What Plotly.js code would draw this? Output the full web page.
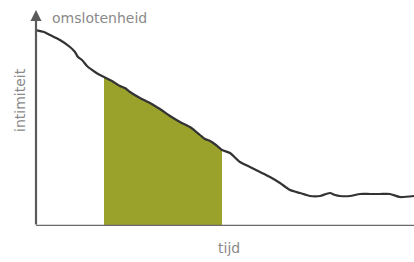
<!DOCTYPE html>
<html>
<head>
<meta charset="utf-8">
<script src="https://cdn.plot.ly/plotly-3.0.1.min.js"></script>
<style>html,body{margin:0;padding:0;background:#fff;}</style>
</head>
<body>
<div id="chart" style="width:414px;height:262px;"></div>
<script>
// time (arbitrary units) and intimacy (arbitrary units)
const tijd = [0, 8, 14, 24, 34, 39, 42, 46, 51, 59, 64, 68, 72, 76, 84, 89, 94, 104, 114, 119, 124, 134, 144, 154, 164, 169, 174, 180, 186, 194, 204, 214, 224, 234, 244, 254, 264, 274, 284, 290, 294, 299, 304, 314, 324, 334, 344, 354, 364, 378];
const intimiteit = [196, 194, 191, 186, 179, 174, 169, 166, 160, 154, 151, 149, 147, 145, 140, 138, 134, 128, 123, 120, 117, 110, 104, 99, 91, 87, 85, 81, 76, 73, 64, 59, 54, 49, 43, 36, 33, 30, 30, 32, 33, 31, 30, 30, 32, 32, 32, 32, 29, 30];
// highlighted interval
const fillStart = 68;
const fillEnd = 186;
const labels = {y: 'intimiteit', x: 'tijd', curve: 'omslotenheid'};

const fx = [], fy = [];
tijd.forEach((t, i) => { if (t >= fillStart && t <= fillEnd) { fx.push(t); fy.push(intimiteit[i]); } });

const traces = [
  {x: fx, y: fy, type: 'scatter', mode: 'lines', fill: 'tozeroy',
   fillcolor: '#9ba22c', line: {width: 0, color: '#9ba22c'}, hoverinfo: 'skip'},
  {x: tijd, y: intimiteit, type: 'scatter', mode: 'lines',
   line: {color: '#333333', width: 2.2, shape: 'spline', smoothing: 0.6}, hoverinfo: 'skip'}
];

const font = {family: 'DejaVu Sans', size: 14, color: '#8a8a8a'};
const layout = {
  width: 414, height: 262,
  margin: {l: 36, r: 0, t: 10, b: 36},
  paper_bgcolor: '#ffffff', plot_bgcolor: '#ffffff',
  showlegend: false,
  xaxis: {range: [0, 378], showgrid: false, zeroline: false, showticklabels: false, showline: false, ticks: ''},
  yaxis: {range: [0, 216], showgrid: false, zeroline: false, showticklabels: false, showline: false, ticks: ''},
  shapes: [
    {type: 'line', xref: 'x', yref: 'y', x0: 0, x1: 378, y0: 0, y1: 0, line: {color: '#6a6a6a', width: 2.5}}
  ],
  annotations: [
    {x: 0, y: 216, xref: 'x', yref: 'y', ax: 0, ay: 216, axref: 'pixel', ayref: 'pixel',
     showarrow: true, arrowhead: 2, arrowsize: 1, arrowwidth: 2.2, arrowcolor: '#5a5a5a', text: '', standoff: 0},
    {x: 14, y: 208, xref: 'x', yref: 'y', text: labels.curve, showarrow: false,
     xanchor: 'left', yanchor: 'middle', font: font},
    {x: -16/378, y: 126, xref: 'paper', yref: 'y', text: labels.y, showarrow: false,
     textangle: -90, xanchor: 'center', yanchor: 'middle', font: font},
    {x: 193/378, y: -22/216, xref: 'paper', yref: 'paper', text: labels.x, showarrow: false,
     xanchor: 'center', yanchor: 'middle', font: font}
  ]
};

Plotly.newPlot('chart', traces, layout, {staticPlot: true, displayModeBar: false});
</script>
</body>
</html>
